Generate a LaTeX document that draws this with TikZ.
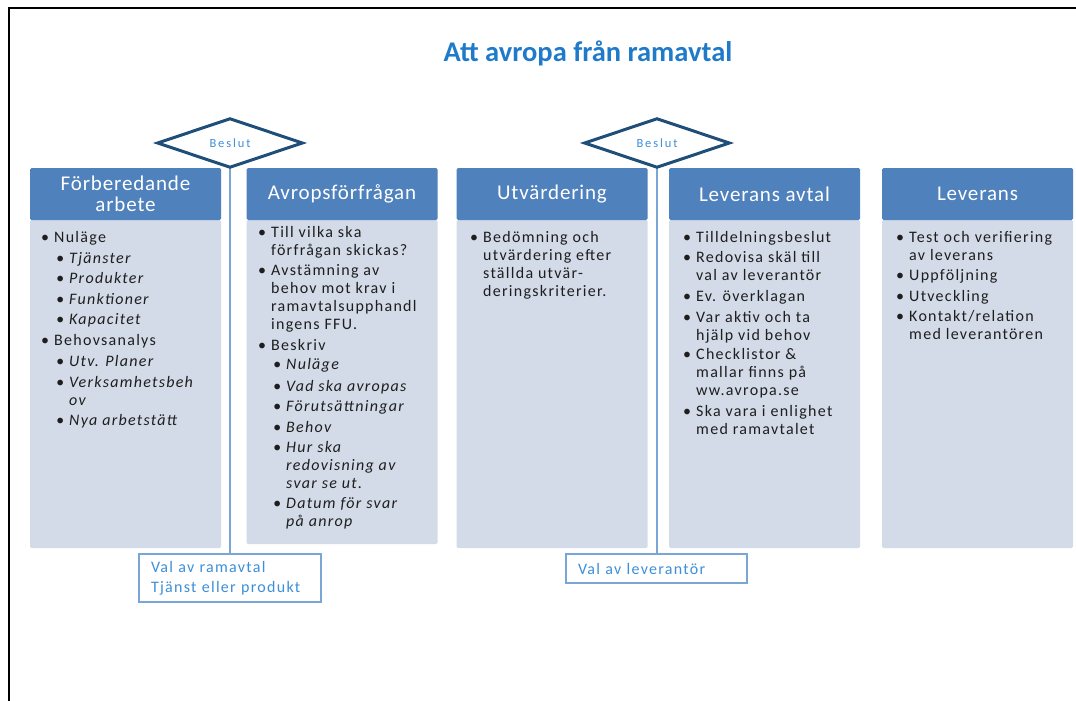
\documentclass[tikz,border=0pt]{standalone}
\usepackage{fontspec}
\setmainfont{Carlito}
\newfontfamily\bodyfam[LetterSpace=8]{Carlito}
\newfontfamily\hdrfam[LetterSpace=4]{Carlito}
\newfontfamily\smallfam[LetterSpace=15]{Carlito}
\usetikzlibrary{shapes.geometric}
\definecolor{hdrblue}{HTML}{4F81BD}
\definecolor{bodyblue}{HTML}{D3DBE8}
\definecolor{titleblue}{HTML}{1F7BC9}
\definecolor{dmdblue}{HTML}{1F4E79}
\definecolor{lnkblue}{HTML}{7AA6D6}
\definecolor{lblblue}{HTML}{3D8FD9}
\definecolor{txt}{HTML}{1E1E1E}
\newcommand\itm[1]{\begin{tabular}[t]{@{}p{13pt}@{}l@{}}\textbullet & #1\end{tabular}}
\tikzset{
  hdr/.style={fill=hdrblue, text=white, align=center, inner sep=0pt,
    minimum width=191pt, minimum height=52pt, rounded corners=1.5pt,
    font=\hdrfam\fontsize{21}{21}\selectfont},
  bodybox/.style={fill=bodyblue, inner sep=0pt, minimum width=191pt, rounded corners=1.5pt},
  itemtxt/.style={anchor=base west, inner sep=0pt, text=txt,
    font=\bodyfam\fontsize{16}{18}\selectfont},
  subtxt/.style={itemtxt, font=\bodyfam\itshape\fontsize{16}{18}\selectfont},
  dmd/.style={diamond, draw=dmdblue, line width=3pt, fill=white, inner sep=0pt,
    minimum width=146pt, minimum height=39pt, text=lblblue,
    font=\smallfam\fontsize{12.5}{13}\selectfont},
  valbox/.style={draw=lnkblue, line width=1.3pt, fill=white, align=left, inner xsep=12pt,
    inner ysep=0pt, text=lblblue, font=\bodyfam\fontsize{16}{20}\selectfont},
  link/.style={draw=lnkblue, line width=2pt}
}
\begin{document}
\begin{tikzpicture}[x=1pt,y=-1pt]
\useasboundingbox (0,0) rectangle (1076,701);
\fill[white] (0,0) rectangle (1076,701);
% frame
\draw[line width=2pt, black] (8.5,701) -- (8.5,8) -- (1076,8);
% title
\node[text=titleblue, font=\bfseries\fontsize{28.5}{30}\selectfont] (title) at (588,53) {Att avropa från ramavtal};

% column bodies
\node[bodybox, minimum height=328pt] (b1) at (125.5,384) {};
\node[bodybox, minimum height=324pt] (b2) at (342,382) {};
\node[bodybox, minimum height=328pt] (b3) at (552,384) {};
\node[bodybox, minimum height=328pt] (b4) at (764.5,384) {};
\node[bodybox, minimum height=328pt] (b5) at (977.5,384) {};
% headers
\node[hdr] (h1) at (125.5,194) {Förberedande\\arbete};
\node[hdr] (h2) at (342,194) {Avropsförfrågan};
\node[hdr] (h3) at (552,194) {Utvärdering};
\node[hdr] (h4) at (764.5,194) {Leverans avtal};
\node[hdr] (h5) at (977.5,194) {Leverans};

% column 1
\node[itemtxt] (c1a) at (41,242) {\itm{Nuläge}};
\node[subtxt] (c1a1) at (56,263) {\itm{Tjänster}};
\node[subtxt] (c1a2) at (56,283) {\itm{Produkter}};
\node[subtxt] (c1a3) at (56,304) {\itm{Funktioner}};
\node[subtxt] (c1a4) at (56,324) {\itm{Kapacitet}};
\node[itemtxt] (c1b) at (41,345) {\itm{Behovsanalys}};
\node[subtxt] (c1b1) at (56,366) {\itm{Utv. Planer}};
\node[subtxt] (c1b2) at (56,387) {\itm{Verksamhetsbeh\\ & ov}};
\node[subtxt] (c1b3) at (56,425) {\itm{Nya arbetstätt}};

% column 2
\node[itemtxt] (c2a) at (258,237) {\itm{Till vilka ska\\ & förfrågan skickas?}};
\node[itemtxt] (c2b) at (258,275) {\itm{Avstämning av\\ & behov mot krav i\\ & ramavtalsupphandl\\ & ingens FFU.}};
\node[itemtxt] (c2c) at (258,350) {\itm{Beskriv}};
\node[subtxt] (c2c1) at (273,369) {\itm{Nuläge}};
\node[subtxt] (c2c2) at (273,391) {\itm{Vad ska avropas}};
\node[subtxt] (c2c3) at (273,411) {\itm{Förutsättningar}};
\node[subtxt] (c2c4) at (273,432) {\itm{Behov}};
\node[subtxt] (c2c5) at (273,452) {\itm{Hur ska\\ & redovisning av\\ & svar se ut.}};
\node[subtxt] (c2c6) at (273,508) {\itm{Datum för svar\\ & på anrop}};

% column 3
\node[itemtxt] (c3a) at (470,242) {\itm{Bedömning och\\ & utvärdering efter\\ & ställda utvär-\\ & deringskriterier.}};

% column 4
\node[itemtxt] (c4a) at (683,242) {\itm{Tilldelningsbeslut}};
\node[itemtxt] (c4b) at (683,262) {\itm{Redovisa skäl till\\ & val av leverantör}};
\node[itemtxt] (c4c) at (683,301) {\itm{Ev. överklagan}};
\node[itemtxt] (c4d) at (683,322) {\itm{Var aktiv och ta\\ & hjälp vid behov}};
\node[itemtxt] (c4e) at (683,359) {\itm{Checklistor \&\\ & mallar finns på\\ & ww.avropa.se}};
\node[itemtxt] (c4f) at (683,416) {\itm{Ska vara i enlighet\\ & med ramavtalet}};

% column 5
\node[itemtxt] (c5a) at (896,242) {\itm{Test och verifiering\\ & av leverans}};
\node[itemtxt] (c5b) at (896,280) {\itm{Uppföljning}};
\node[itemtxt] (c5c) at (896,301) {\itm{Utveckling}};
\node[itemtxt] (c5d) at (896,321) {\itm{Kontakt/relation\\ & med leverantören}};

% decisions
\node[valbox, text width=158pt, minimum height=48pt] (v1) at (230,578) {Val av ramavtal\\Tjänst eller produkt};
\node[valbox, text width=157pt, minimum height=29pt] (v2) at (656.5,568.5) {Val av leverantör};
\draw[link] (230,162) coordinate (l1top) -- (v1.north);
\draw[link] (657,162) coordinate (l2top) -- (l2top |- v2.north);
\node[dmd] (d1) at (230,143) {Beslut};
\node[dmd] (d2) at (657,143) {Beslut};
\end{tikzpicture}
\end{document}
